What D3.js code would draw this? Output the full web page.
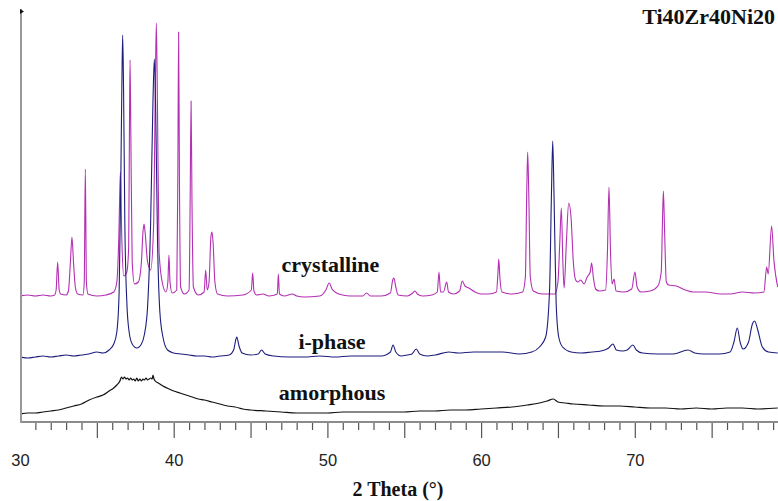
<!DOCTYPE html>
<html>
<head>
<meta charset="utf-8">
<script src="https://cdn.jsdelivr.net/npm/d3@7"></script>
<style>
  html, body { margin: 0; padding: 0; background: #fff; }
  svg { display: block; }
</style>
</head>
<body>
<svg id="chart" width="778" height="501"></svg>
<script>
// X-ray diffraction patterns of Ti40Zr40Ni20, stacked with vertical offsets.
// Each pattern: [2θ (deg), intensity (a.u., offset included)]

const crystalline = [
  [30.0,126],[30.5,127],[31.0,126],[31.5,127],[32.0,126],[32.25,127],[32.35,132],[32.45,160],[32.55,132],[32.65,128],
  [33.0,127],[33.15,131],[33.28,160],[33.38,185],[33.48,160],[33.6,135],[33.75,128],[34.1,127],[34.18,140],[34.25,253],
  [34.32,140],[34.42,128],[35.0,126],[35.6,127],[36.1,130],[36.3,140],[36.43,185],[36.53,250],[36.63,180],[36.75,146],
  [36.95,150],[37.07,175],[37.12,290],[37.16,362],[37.21,290],[37.3,160],[37.45,138],[37.7,140],[37.9,160],[38.0,190],
  [38.07,198],[38.15,188],[38.3,160],[38.5,152],[38.7,200],[38.8,330],[38.87,399],[38.94,320],[39.05,170],[39.25,140],
  [39.5,130],[39.62,140],[39.69,167],[39.76,140],[39.9,129],[40.2,132],[40.27,250],[40.32,390],[40.37,250],[40.45,135],
  [40.7,128],[41.0,132],[41.07,220],[41.13,321],[41.19,220],[41.28,135],[41.6,127],[41.98,130],[42.08,152],[42.18,132],
  [42.3,140],[42.42,185],[42.49,190],[42.56,180],[42.68,140],[42.85,128],[43.5,126],[44.5,127],[45.05,132],[45.14,149],
  [45.22,131],[45.4,127],[45.8,128],[46.2,126],[46.74,128],[46.81,148],[46.88,128],[47.2,126],[47.72,128],[48.0,126],
  [48.5,125],[49.5,126],[49.9,132],[50.12,139],[50.3,133],[50.6,129],[51.0,127],[51.5,126],[52.3,126],[52.55,129],
  [52.8,126],[53.5,126],[54.1,129],[54.25,142],[54.33,144],[54.45,135],[54.6,127],[55.2,126],[55.55,129],[55.7,131],
  [55.85,128],[56.2,126],[56.8,127],[57.15,130],[57.26,150],[57.36,130],[57.55,130],[57.76,140],[57.88,130],[58.2,128],
  [58.6,131],[58.78,141],[58.95,136],[59.2,134],[59.6,130],[60.0,128],[60.5,128],[61.0,130],[61.1,150],[61.15,163],
  [61.22,145],[61.35,130],[62.0,128],[62.7,130],[62.88,145],[62.97,230],[63.03,270],[63.1,230],[63.2,145],[63.4,131],
  [64.0,128],[64.8,128],[65.0,140],[65.12,180],[65.22,214],[65.32,160],[65.4,134],[65.55,180],[65.7,219],[65.85,205],
  [66.0,160],[66.15,142],[66.3,140],[66.48,142],[66.7,138],[66.9,145],[67.1,150],[67.19,159],[67.3,145],[67.45,133],
  [67.7,131],[68.1,132],[68.22,170],[68.32,235],[68.42,170],[68.52,138],[68.65,143],[68.78,131],[69.3,130],[69.8,133],
  [70.01,150],[70.15,135],[70.4,130],[71.0,131],[71.5,136],[71.72,150],[71.8,200],[71.86,231],[71.94,190],[72.05,140],
  [72.2,137],[72.7,136],[73.3,132],[73.8,130],[74.6,130],[75.6,128],[76.2,128],[77.0,130],[77.8,129],[78.4,130],
  [78.58,155],[78.68,148],[78.9,196],[79.05,162],[79.3,135]
];

const iPhase = [
  [30.0,65],[30.5,64],[31.0,65],[31.5,66],[32.0,65],[32.5,66],[33.0,67],[33.5,66],[34.0,67],[34.5,68],
  [35.0,70],[35.4,69],[35.8,72],[36.1,78],[36.3,90],[36.45,130],[36.55,230],[36.63,340],[36.68,387],[36.74,330],
  [36.82,200],[36.95,120],[37.1,90],[37.3,78],[37.6,74],[37.9,78],[38.1,88],[38.3,115],[38.5,200],[38.65,320],
  [38.74,363],[38.83,310],[38.95,180],[39.1,110],[39.3,85],[39.6,72],[40.0,69],[40.5,68],[41.0,67],[41.5,66],
  [42.0,66],[42.5,65],[43.0,66],[43.6,67],[43.9,72],[44.05,83],[44.1,85],[44.25,76],[44.45,69],[45.0,67],
  [45.5,68],[45.72,72],[45.95,68],[46.5,66],[47.5,65],[48.5,65],[49.5,66],[50.5,65],[51.5,66],[52.5,66],
  [53.5,66],[54.1,70],[54.27,77],[54.45,70],[54.8,66],[55.2,67],[55.5,68],[55.78,73],[56.0,68],[56.5,66],
  [57.0,67],[57.9,70],[58.5,69],[59.5,70],[60.5,70],[61.4,70],[62.5,68],[63.3,70],[63.8,75],[64.2,85],
  [64.45,130],[64.58,230],[64.66,281],[64.74,230],[64.88,120],[65.05,85],[65.3,75],[65.85,70],[66.5,69],[67.2,70],
  [67.8,71],[68.3,74],[68.58,78],[68.8,72],[69.2,71],[69.5,72],[69.88,77],[70.1,72],[70.5,69],[71.5,68],
  [72.5,68],[73.46,72],[73.9,69],[74.5,68],[75.5,68],[76.2,70],[76.45,80],[76.67,94],[76.85,80],[77.05,73],
  [77.4,80],[77.65,98],[77.8,101],[78.0,92],[78.3,75],[78.7,70],[79.3,69]
];

const amorphous = [
  [30.0,8],[30.5,9],[31.0,9],[31.5,10],[32.0,11],[32.5,12],[33.0,14],[33.5,16],[34.0,18],[34.5,22],
  [35.0,25],[35.4,27],[35.8,31],[36.1,34],[36.3,37],[36.5,41],[36.6,45],[36.7,43],[36.8,45],[36.9,43],
  [37.0,44],[37.1,42],[37.2,44],[37.3,42],[37.4,43],[37.5,41],[37.6,44],[37.7,41],[37.8,43],[37.9,41],
  [38.0,43],[38.1,42],[38.2,44],[38.3,42],[38.4,43],[38.5,44],[38.6,43],[38.65,47],[38.72,43],[38.8,41],
  [39.0,39],[39.3,36],[39.7,33],[40.0,31],[40.4,29],[40.8,27],[41.2,25],[41.6,23],[42.0,22],[42.5,20],
  [43.0,18],[43.5,16],[44.0,15],[44.5,13],[45.0,12],[46.0,11],[47.0,10],[48.0,9],[49.0,9],[50.0,9],
  [51.0,10],[52.0,10],[53.0,10],[54.0,10],[55.0,10],[56.0,11],[57.0,11],[58.0,12],[59.0,12],[60.0,13],
  [61.0,14],[62.0,15],[63.0,17],[63.8,19],[64.3,21],[64.7,23],[65.0,20],[65.5,19],[66.0,18],[67.0,17],
  [68.0,16],[69.0,16],[70.0,15],[71.0,14],[72.0,14],[73.0,13],[74.0,14],[75.0,13],[76.0,14],[77.0,14],
  [78.0,13],[79.3,14]
];

const patterns = [
  { name: "crystalline", values: crystalline, color: "#b32fb3", width: 1.1 },
  { name: "i-phase",     values: iPhase,      color: "#1d1d7c", width: 1.1 },
  { name: "amorphous",   values: amorphous,   color: "#111111", width: 1.2 }
];

// Pattern labels: text and the 2θ / intensity where each one sits
const patternLabels = [
  { text: "crystalline", at: [50.2, 150] },
  { text: "i-phase",     at: [50.3, 73] },
  { text: "amorphous",   at: [50.3, 22] }
];

const labeledTicks = [30, 40, 50, 60, 70];
const majorTicks = [35, 40, 45, 50, 55, 60, 65, 70, 75];
const minorTicks = d3.range(31, 80).filter(d => d % 5 !== 0);

const titleText = "Ti40Zr40Ni20";
const xTitle = "2 Theta (°)";

const svg = d3.select("#chart");
const W = 778, H = 501;
const plotLeft = 21, plotBottom = 422, plotTop = 9;

const x = d3.scaleLinear().domain([30, 80]).range([20, 20 + 50 * 15.37]);
const y = d3.scaleLinear().domain([0, 412]).range([plotBottom, 10]);

svg.append("defs").append("clipPath").attr("id", "plotClip")
  .append("rect").attr("x", plotLeft + 1).attr("y", 0).attr("width", W - plotLeft).attr("height", plotBottom);

const line = d3.line().x(d => x(d[0])).y(d => y(d[1])).curve(d3.curveMonotoneX);

const plot = svg.append("g").attr("clip-path", "url(#plotClip)");
plot.selectAll("path.pattern")
  .data(patterns)
  .join("path")
  .attr("class", "pattern")
  .attr("fill", "none")
  .attr("stroke", d => d.color)
  .attr("stroke-width", d => d.width)
  .attr("stroke-linejoin", "round")
  .attr("d", d => line(d.values));

// Bottom axis: minor ticks, major ticks, labels
const axisG = svg.append("g").attr("transform", `translate(0,${plotBottom})`);

const minorAxis = d3.axisBottom(x).tickValues(minorTicks).tickSize(8).tickFormat("");
const majorAxis = d3.axisBottom(x).tickValues(majorTicks).tickSize(16).tickFormat("");
const labelAxis = d3.axisBottom(x).tickValues(labeledTicks).tickSize(0).tickPadding(32).tickFormat(d3.format("d"));

[minorAxis, majorAxis, labelAxis].forEach(ax => {
  const g = axisG.append("g").call(ax);
  g.select(".domain").remove();
  g.selectAll(".tick line").attr("stroke", "#555").attr("stroke-width", 1.2);
  g.selectAll(".tick text")
    .attr("fill", "#222")
    .style("font-family", "'Liberation Sans', Arial, sans-serif")
    .style("font-size", "16.5px");
});

// Axis frame lines
svg.append("line")
  .attr("x1", plotLeft).attr("x2", W).attr("y1", plotBottom).attr("y2", plotBottom)
  .attr("stroke", "#8c8c8c").attr("stroke-width", 2);
svg.append("line")
  .attr("x1", plotLeft).attr("x2", plotLeft).attr("y1", plotTop).attr("y2", plotBottom + 1)
  .attr("stroke", "#999").attr("stroke-width", 2);
svg.append("path")
  .attr("d", `M${plotLeft - 1},${plotTop} L${plotLeft + 3},${plotTop + 2.5} L${plotLeft - 1},${plotTop + 5} Z`)
  .attr("fill", "#111");

// Pattern labels
svg.selectAll("text.plabel")
  .data(patternLabels)
  .join("text")
  .attr("class", "plabel")
  .attr("x", d => x(d.at[0]))
  .attr("y", d => y(d.at[1]))
  .attr("text-anchor", "middle")
  .style("font-family", "'Liberation Serif', 'Times New Roman', serif")
  .style("font-weight", "bold")
  .style("font-size", "22px")
  .attr("fill", "#111")
  .text(d => d.text);

// Title
svg.append("text")
  .attr("x", 775).attr("y", 24)
  .attr("text-anchor", "end")
  .style("font-family", "'Liberation Serif', 'Times New Roman', serif")
  .style("font-weight", "bold")
  .style("font-size", "22px")
  .attr("fill", "#111")
  .text(titleText);

// X axis title
svg.append("text")
  .attr("x", 398).attr("y", 496)
  .attr("text-anchor", "middle")
  .style("font-family", "'Liberation Serif', 'Times New Roman', serif")
  .style("font-weight", "bold")
  .style("font-size", "20px")
  .attr("fill", "#111")
  .text(xTitle);
</script>
</body>
</html>
